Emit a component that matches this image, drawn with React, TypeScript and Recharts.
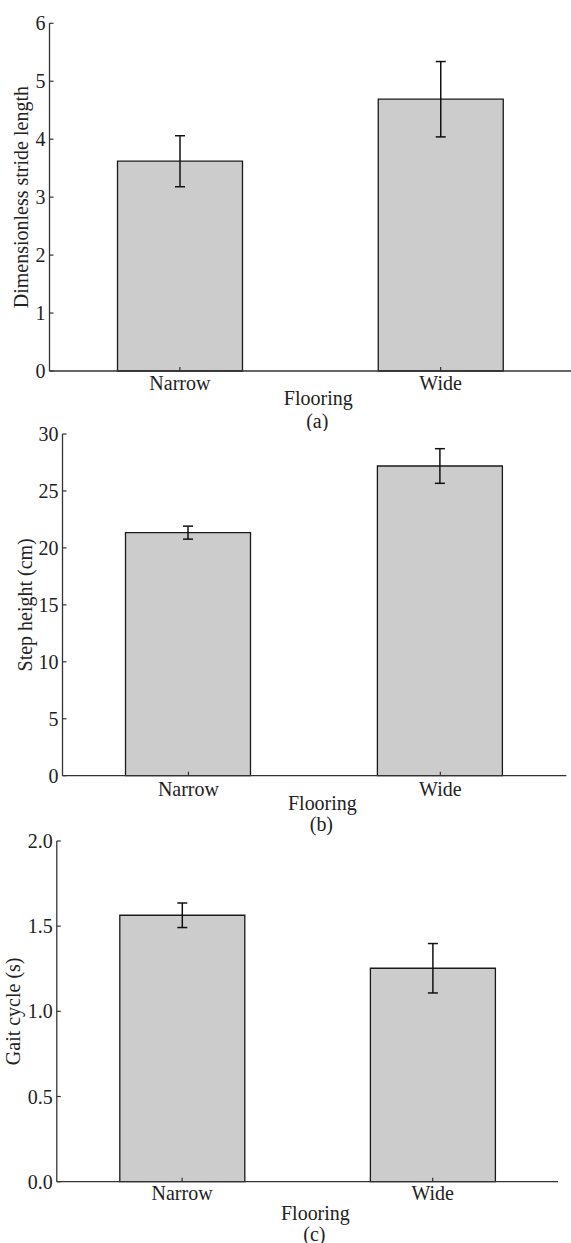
import React from "react";
import { BarChart, Bar, XAxis, YAxis, ErrorBar, Label } from "recharts";

const categories = ["Narrow", "Wide"];
const strideMean = [3.62, 4.69];
const strideErr = [0.44, 0.65];
const stepMean = [21.34, 27.19];
const stepErr = [0.57, 1.52];
const gaitMean = [1.564, 1.253];
const gaitErr = [0.072, 0.145];
const strideTicks = [0, 1, 2, 3, 4, 5, 6];
const stepTicks = [0, 5, 10, 15, 20, 25, 30];
const gaitTicks = [0, 0.5, 1, 1.5, 2];

const FONT = "'Liberation Serif', 'Times New Roman', serif";
const TEXT = "#222";
const AXIS = "#333";

type PanelProps = {
  means: number[];
  errs: number[];
  ticks: number[];
  fmt: (v: number) => string;
  yLabel: string;
  caption: string;
  top: number;
  height: number;
  marginTop: number;
  marginRight: number;
  yWidth: number;
  xHeight: number;
  yLabelX: number;
  xTickDy: number;
  flooringDy: number;
  captionDy: number;
};

function Panel(p: PanelProps) {
  const data = categories.map((c, i) => ({ cat: c, mean: p.means[i], err: p.errs[i] }));
  const YTick = (props: any) => {
    const { x, y, payload } = props;
    return (
      <g>
        <line x1={x} x2={x + 4} y1={y} y2={y} stroke={AXIS} strokeWidth={1.2} />
        <text x={x - 4} y={y} textAnchor="end" dominantBaseline="central" fontFamily={FONT} fontSize={20} fill={TEXT}>
          {p.fmt(payload.value)}
        </text>
      </g>
    );
  };
  const XTick = (props: any) => {
    const { x, y, payload } = props;
    return (
      <g>
        <line x1={x} x2={x} y1={y} y2={y - 4} stroke={AXIS} strokeWidth={1.2} />
        <text x={x} y={y + p.xTickDy} textAnchor="middle" fontFamily={FONT} fontSize={20} fill={TEXT}>
          {payload.value}
        </text>
      </g>
    );
  };
  return (
    <div style={{ position: "absolute", left: 0, top: p.top, width: 571, height: p.height }}>
      <BarChart
        width={571}
        height={p.height}
        data={data}
        margin={{ top: p.marginTop, right: p.marginRight, bottom: 0, left: 0 }}
        barCategoryGap={0}
      >
        <XAxis
          dataKey="cat"
          height={p.xHeight}
          tickSize={0}
          tickMargin={0}
          tickLine={false}
          tick={XTick}
          axisLine={{ stroke: AXIS, strokeWidth: 1.3 }}
          interval={0}
        >
          <Label
            content={(lp: any) => {
              const vb = lp.viewBox || {};
              return (
                <g>
                  <text x={vb.x + vb.width / 2 + 8} y={vb.y + p.flooringDy} textAnchor="middle" fontFamily={FONT} fontSize={20} fill={TEXT}>
                    Flooring
                  </text>
                  <text x={vb.x + vb.width / 2 + 7} y={vb.y + p.captionDy} textAnchor="middle" fontFamily={FONT} fontSize={20} fill={TEXT}>
                    {p.caption}
                  </text>
                </g>
              );
            }}
          />
        </XAxis>
        <YAxis
          width={p.yWidth}
          domain={[p.ticks[0], p.ticks[p.ticks.length - 1]]}
          ticks={p.ticks}
          interval={0}
          tickSize={0}
          tickMargin={0}
          tickLine={false}
          tick={YTick}
          axisLine={{ stroke: AXIS, strokeWidth: 1.3 }}
        >
          <Label
            content={(lp: any) => {
              const vb = lp.viewBox || {};
              const cy = vb.y + vb.height / 2;
              return (
                <text
                  x={p.yLabelX}
                  y={cy}
                  transform={`rotate(-90, ${p.yLabelX}, ${cy})`}
                  textAnchor="middle"
                  fontFamily={FONT}
                  fontSize={20}
                  fill={TEXT}
                >
                  {p.yLabel}
                </text>
              );
            }}
          />
        </YAxis>
        <Bar dataKey="mean" fill="#cccccc" stroke="#1a1a1a" strokeWidth={1.3} barSize={125} isAnimationActive={false}>
          <ErrorBar dataKey="err" width={5} stroke="#111" strokeWidth={1.5} isAnimationActive={false} />
        </Bar>
      </BarChart>
    </div>
  );
}

export default function App() {
  return (
    <div style={{ position: "absolute", left: 0, top: 0, width: 571, height: 1243, background: "#fff" }}>
      <Panel
        means={strideMean}
        errs={strideErr}
        ticks={strideTicks}
        fmt={(v) => String(v)}
        yLabel="Dimensionless stride length"
        caption="(a)"
        top={0}
        height={431}
        marginTop={23.3}
        marginRight={0}
        yWidth={49.5}
        xHeight={60}
        yLabelX={28}
        xTickDy={19}
        flooringDy={34}
        captionDy={57}
      />
      <Panel
        means={stepMean}
        errs={stepErr}
        ticks={stepTicks}
        fmt={(v) => String(v)}
        yLabel="Step height (cm)"
        caption="(b)"
        top={411}
        height={424.7}
        marginTop={23}
        marginRight={4.7}
        yWidth={62.5}
        xHeight={60}
        yLabelX={31.5}
        xTickDy={20}
        flooringDy={34.5}
        captionDy={55.5}
      />
      <Panel
        means={gaitMean}
        errs={gaitErr}
        ticks={gaitTicks}
        fmt={(v) => v.toFixed(1)}
        yLabel="Gait cycle (s)"
        caption="(c)"
        top={815.7}
        height={427.3}
        marginTop={25}
        marginRight={13}
        yWidth={56.8}
        xHeight={61.6}
        yLabelX={20.5}
        xTickDy={18.5}
        flooringDy={38}
        captionDy={59}
      />
    </div>
  );
}
